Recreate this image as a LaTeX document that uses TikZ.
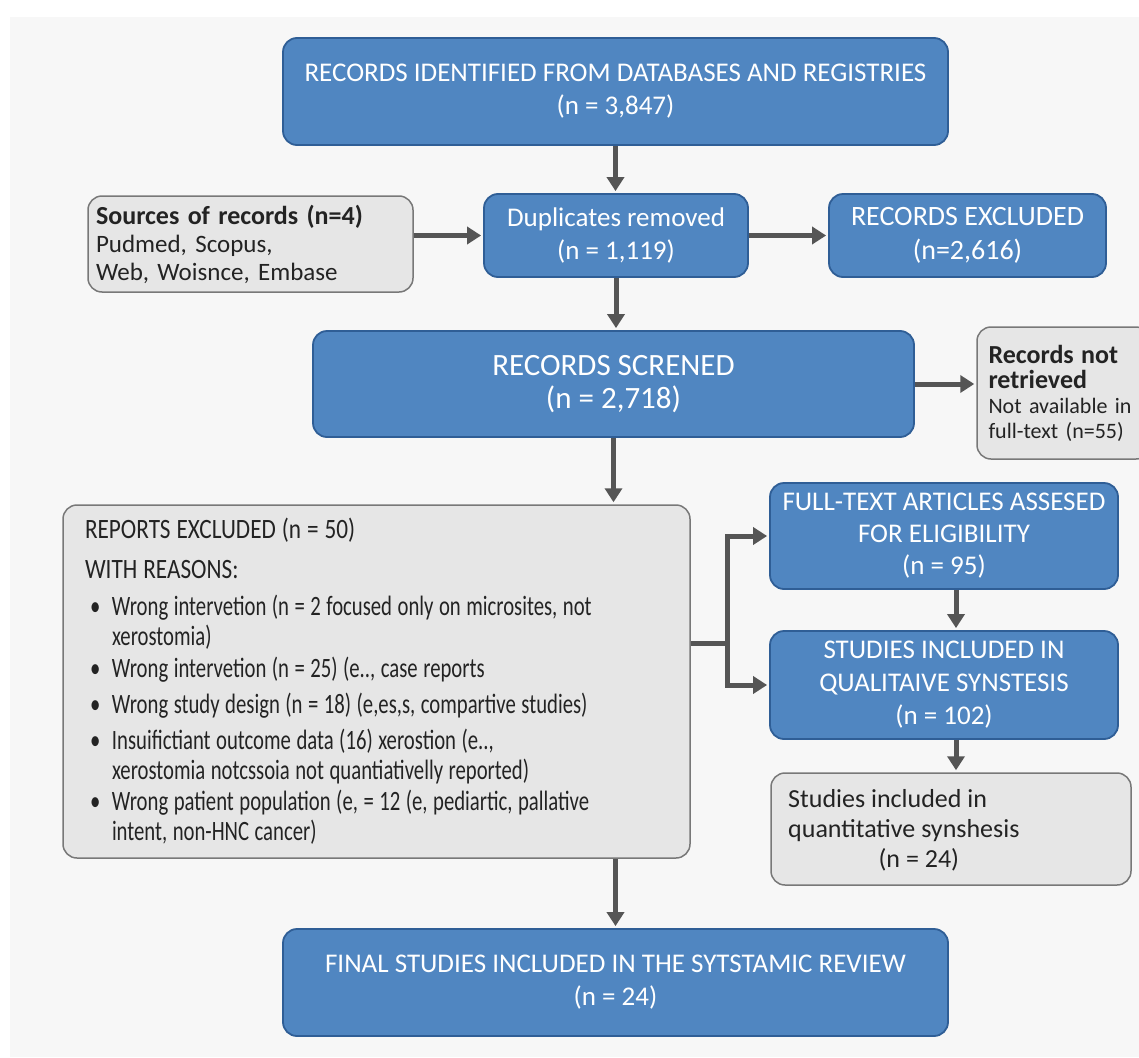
\documentclass[tikz,border=0pt]{standalone}
\usepackage{fontspec}
\setmainfont{Carlito}
\newfontfamily\condfont[FakeStretch=0.74]{Carlito}
\newfontfamily\titlecond[FakeStretch=0.83]{Carlito}
\usetikzlibrary{arrows.meta}
\definecolor{bfill}{RGB}{80,134,193}
\definecolor{bborder}{RGB}{47,94,150}
\definecolor{gfill}{RGB}{230,230,230}
\definecolor{gborder}{RGB}{120,120,120}
\definecolor{acol}{RGB}{85,85,85}
\definecolor{bgcol}{RGB}{247,247,247}
\definecolor{dtext}{RGB}{35,35,35}
\newcommand{\bul}[1]{\makebox[27pt][l]{\hspace{5pt}\textbullet}\parbox[t]{556pt}{\raggedright\spaceskip=5.5pt plus 2pt minus 1pt #1}}
\begin{document}
\begin{tikzpicture}[x=1pt,y=-1pt,
  bluebox/.style={draw=bborder, fill=bfill, line width=1.8pt, rounded corners=14pt, text=white, align=center, inner sep=0pt, font=\fontsize{27}{33}\selectfont},
  graybox/.style={draw=gborder, fill=gfill, line width=1.5pt, rounded corners=14pt, text=dtext, inner sep=0pt},
  arr/.style={draw=acol, line width=5pt, shorten >=2pt, -{Triangle[length=14pt,width=17pt]}}]
\useasboundingbox[fill=white] (0,0) rectangle (1139,1057);
\fill[bgcol] (10,17) rectangle (1139,1057);

\node[bluebox, minimum width=665pt, minimum height=107pt] (top) at (615.5,91.5) {RECORDS IDENTIFIED FROM DATABASES AND REGISTRIES\\(n = 3,847)};
\node[graybox, minimum width=325pt, minimum height=96pt, text width=309pt, align=left, font=\fontsize{25}{28}\selectfont] (src) at (250.5,244) {{\fontsize{26}{28}\selectfont\bfseries Sources of records (n=4)}\\Pudmed, Scopus,\\Web, Woisnce, Embase};
\node[bluebox, minimum width=264pt, minimum height=83pt] (dup) at (616,235.5) {Duplicates removed\\(n = 1,119)};
\node[bluebox, minimum width=277pt, minimum height=83pt, font=\fontsize{28}{34}\selectfont] (excl) at (967.5,235.5) {RECORDS EXCLUDED\\(n=2,616)};
\node[bluebox, minimum width=601pt, minimum height=106pt, font=\fontsize{31}{33}\selectfont] (scr) at (613.5,384) {RECORDS SCRENED\\(n = 2,718)};
\node[graybox, minimum width=173pt, minimum height=132pt, text width=150pt, align=left, font=\fontsize{22}{25}\selectfont] (nr) at (1063.5,393) {{\fontsize{26}{27}\selectfont\bfseries Records not\\retrieved}\\Not available in\\full-text (n=55)};
\node[graybox, minimum width=627pt, minimum height=353pt, text width=583pt, align=left, font=\condfont\fontsize{28}{30}\selectfont] (rep) at (376.5,681.5) {{\titlecond\fontsize{28}{30}\selectfont\spaceskip=6pt plus 2pt minus 1pt REPORTS EXCLUDED (n = 50)\\[10pt]WITH REASONS:}\\[7pt]
\bul{Wrong intervetion (n = 2 focused only on microsites, not\\xerostomia)}\\[6pt]
\bul{Wrong intervetion (n = 25) (e.., case reports}\\[6pt]
\bul{Wrong study design (n = 18) (e,es,s, compartive studies)}\\[6pt]
\bul{Insuifictiant outcome data (16) xerostion (e..,\\xerostomia notcssoia not quantiativelly reported)}\\[6pt]
\bul{Wrong patient population (e, = 12 (e, pediartic, pallative\\intent, non-HNC cancer)}};
\node[bluebox, minimum width=348pt, minimum height=106pt, font=\fontsize{27}{32}\selectfont] (ft) at (944,536) {FULL-TEXT ARTICLES ASSESED\\FOR ELIGIBILITY\\(n = 95)};
\node[bluebox, minimum width=348pt, minimum height=108pt, font=\fontsize{27}{33}\selectfont] (qual) at (944,685) {STUDIES INCLUDED IN\\QUALITAIVE SYNSTESIS\\(n = 102)};
\node[graybox, minimum width=360pt, minimum height=112pt] (quant) at (951,829) {};
\node[anchor=west, inner sep=0pt, text=dtext, font=\fontsize{26}{30}\selectfont] (quanttext) at (788,831) {\begin{tabular}{@{}l@{}}Studies included in\\quantitative synshesis\\\multicolumn{1}{@{}c@{}}{\hspace{30pt}(n = 24)}\end{tabular}};
\node[bluebox, minimum width=665pt, minimum height=107pt] (final) at (615.5,982.5) {FINAL STUDIES INCLUDED IN THE SYTSTAMIC REVIEW\\(n = 24)};

\draw[arr] (top.south) -- (top.south |- dup.north);
\draw[arr] (dup.west -| src.east) -- (dup.west);
\draw[arr] (dup.east) -- (excl.west);
\draw[arr] (dup.south) -- (dup.south |- scr.north);
\draw[arr] (scr.east) -- (scr.east -| nr.west);
\draw[arr] (scr.south) -- (scr.south |- rep.north);
\draw[arr] (final.north |- rep.south) -- (final.north);
\coordinate (br) at (727,643);
\draw[arr] (rep.east |- br) -- (br) |- (ft.west);
\draw[arr] (br) |- (qual.west);
\draw[arr] ([xshift=12pt]ft.south) -- ([xshift=12pt]ft.south |- qual.north);
\draw[arr] ([xshift=12pt]qual.south) -- ([xshift=12pt]qual.south |- quant.north);
\end{tikzpicture}
\end{document}
